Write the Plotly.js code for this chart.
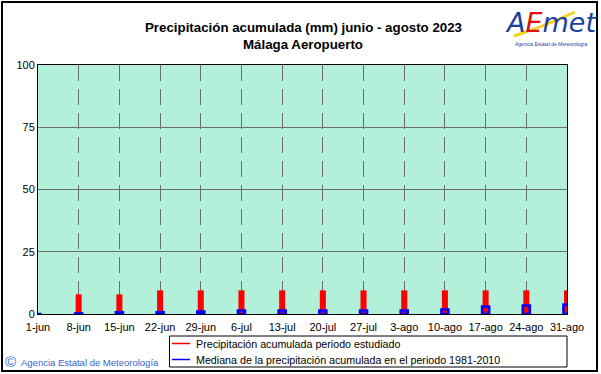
<!DOCTYPE html>
<html>
<head>
<meta charset="utf-8">
<script src="https://cdn.plot.ly/plotly-3.0.1.min.js"></script>
<style>
  html, body { margin: 0; padding: 0; background: #ffffff; }
  #chart { width: 601px; height: 374px; }
</style>
</head>
<body>
<div id="chart"></div>
<script>
// ---- data ----
var weekLabels = ["1-jun","8-jun","15-jun","22-jun","29-jun","6-jul","13-jul","20-jul","27-jul","3-ago","10-ago","17-ago","24-ago","31-ago"];
var precipStudied = [0, 7.9, 7.9, 9.5, 9.5, 9.5, 9.5, 9.5, 9.5, 9.5, 9.5, 9.5, 9.5, 9.5];
var precipMedian = [0, 0.2, 0.7, 0.7, 1.0, 1.4, 1.4, 1.4, 1.4, 1.4, 1.8, 3.0, 3.4, 3.8];
var yTicks = [0, 25, 50, 75, 100];

// ---- layout helpers (pixel -> paper) ----
var W = 601, H = 374, ML = 38, MR = 34, MT = 65, MB = 60;
var PW = W - ML - MR, PH = H - MT - MB;
function px(x) { return (x - ML) / PW; }
function py(y) { return (H - MB - y) / PH; }

var xIdx = weekLabels.map(function (_, i) { return i; });
var FONT = "Arial, 'Liberation Sans', sans-serif";

var traces = [
  {
    type: "bar", x: xIdx, y: precipStudied, width: 0.148, cliponaxis: false,
    marker: { color: "#ff0000", line: { width: 0 } },
    showlegend: false, hoverinfo: "skip"
  },
  {
    type: "bar", x: xIdx, y: precipMedian, width: 0.172, cliponaxis: false,
    marker: { color: "rgba(0,0,0,0)", line: { color: "#0000ff", width: 2.6 } },
    showlegend: false, hoverinfo: "skip"
  }
];

var shapes = [
  // outer frame
  { type: "rect", xref: "paper", yref: "paper", x0: px(2), x1: px(597), y0: py(371), y1: py(2),
    line: { color: "#000000", width: 2 }, fillcolor: "rgba(0,0,0,0)", layer: "above" },
  // legend box
  { type: "rect", xref: "paper", yref: "paper", x0: px(169.5), x1: px(567), y0: py(367), y1: py(336),
    line: { color: "#000000", width: 1 }, fillcolor: "#ffffff" },
  { type: "line", xref: "paper", yref: "paper", x0: px(172), x1: px(190), y0: py(343.5), y1: py(343.5),
    line: { color: "#ff0000", width: 1.5 } },
  { type: "line", xref: "paper", yref: "paper", x0: px(172), x1: px(190), y0: py(359.5), y1: py(359.5),
    line: { color: "#0000ff", width: 1.5 } },
  // logo swoosh
  { type: "path", xref: "paper", yref: "paper",
    path: "M " + px(514) + "," + py(36) + " Q " + px(540) + "," + py(28) + " " + px(575) + "," + py(12),
    line: { color: "#f2d21a", width: 3 } }
];

var annotations = [
  { xref: "paper", yref: "paper", x: px(303), y: py(27), text: "<b>Precipitación acumulada (mm) junio - agosto 2023</b>",
    showarrow: false, xanchor: "center", yanchor: "middle", font: { family: FONT, size: 13.3, color: "#000000" } },
  { xref: "paper", yref: "paper", x: px(303), y: py(44), text: "<b>Málaga Aeropuerto</b>",
    showarrow: false, xanchor: "center", yanchor: "middle", font: { family: FONT, size: 13.3, color: "#000000" } },
  { xref: "paper", yref: "paper", x: px(194), y: py(343.5), text: "Precipitación acumulada periodo estudiado",
    showarrow: false, xanchor: "left", yanchor: "middle", font: { family: FONT, size: 10.7, color: "#000000" } },
  { xref: "paper", yref: "paper", x: px(194), y: py(359.5), text: "Mediana de la precipitación acumulada en el periodo 1981-2010",
    showarrow: false, xanchor: "left", yanchor: "middle", font: { family: FONT, size: 10.7, color: "#000000" } },
  { xref: "paper", yref: "paper", x: px(3), y: py(361), text: "©",
    showarrow: false, xanchor: "left", yanchor: "middle", font: { family: FONT, size: 15, color: "#3366cc" } },
  { xref: "paper", yref: "paper", x: px(19), y: py(362), text: "Agencia Estatal de Meteorología",
    showarrow: false, xanchor: "left", yanchor: "middle", font: { family: FONT, size: 9.5, color: "#3366cc" } },
  { xref: "paper", yref: "paper", x: px(551), y: py(22),
    text: "<i><span style='color:#1c3f9e'>A</span><span style='color:#e01010'>E</span><span style='color:#1c3f9e'>met</span></i>",
    showarrow: false, xanchor: "center", yanchor: "middle", font: { family: "'DejaVu Sans', sans-serif", size: 27, color: "#1c3f9e" } },
  { xref: "paper", yref: "paper", x: px(551), y: py(44), text: "Agencia Estatal de Meteorología",
    showarrow: false, xanchor: "center", yanchor: "middle", font: { family: FONT, size: 5, color: "#1c3f9e" } }
];

var layout = {
  width: W, height: H,
  margin: { l: ML, r: MR, t: MT, b: MB, pad: 0 },
  paper_bgcolor: "#ffffff",
  plot_bgcolor: "#b2f0da",
  barmode: "overlay",
  showlegend: false,
  font: { family: FONT, size: 11, color: "#000000" },
  xaxis: {
    range: [0, 13], tickmode: "array", tickvals: xIdx, ticktext: weekLabels,
    showgrid: true, gridcolor: "#6e6e6e", gridwidth: 1, griddash: "16px,8px",
    showline: true, linecolor: "#000000", linewidth: 1, mirror: true,
    ticks: "", zeroline: false, fixedrange: true, ticklabelstandoff: 3,
    tickfont: { family: FONT, size: 11, color: "#000000" }
  },
  yaxis: {
    range: [0, 100], tickmode: "array", tickvals: yTicks, ticktext: yTicks.map(String),
    showgrid: true, gridcolor: "#6e6e6e", gridwidth: 1,
    showline: true, linecolor: "#000000", linewidth: 1, mirror: true,
    ticks: "", zeroline: false, fixedrange: true,
    tickfont: { family: FONT, size: 11, color: "#000000" }
  },
  shapes: shapes,
  annotations: annotations
};

Plotly.newPlot("chart", traces, layout, { displayModeBar: false, staticPlot: true });
</script>
</body>
</html>
